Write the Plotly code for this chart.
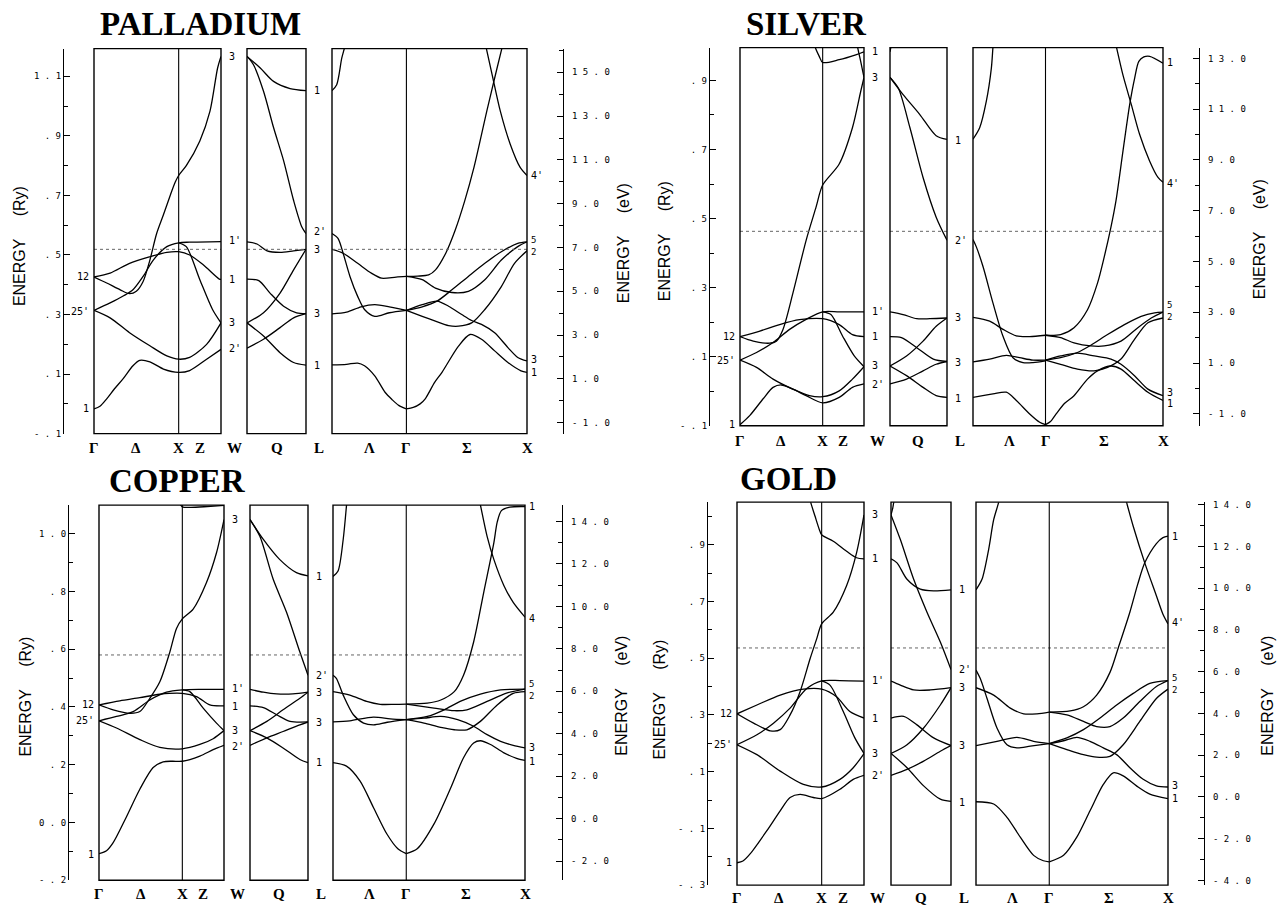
import plotly.graph_objects as go

FIG_W, FIG_H = 1283, 911
RY_TO_EV = 13.6

# ---------------- data ----------------
SYM_POINTS = ["Γ", "Δ", "X", "Z", "W", "Q", "L", "Λ", "Γ", "Σ", "X"]
K_BOX1 = [0.0, 0.5, 1.0, 1.25]          # Γ Δ X Z   (Γ-X-W path, W at 1.5)
K_BOX3 = [0.435, 0.87, 1.575, 2.28]     # Λ Γ Σ X   (L-Γ-X path)
K_X, K_W, K_GAMMA, K_END = 1.0, 1.5, 0.87, 2.28

# ---- PALLADIUM ----
PD_RANGE = [-0.1, 1.193]
PD_EV_ZERO = 0.0105
PD_FERMI = 0.519
PD_RY_TICKS = [-0.1, 0.1, 0.3, 0.5, 0.7, 0.9, 1.1]
PD_RY_TEXT = ["-.1", ".1", ".3", ".5", ".7", ".9", "1.1"]
PD_RY_MINOR = [0.0, 0.2, 0.4, 0.6, 0.8, 1.0, 1.2]
PD_EV_TICKS = [-1, 1, 3, 5, 7, 9, 11, 13, 15]
PD_EV_MINOR = [0, 2, 4, 6, 8, 10, 12, 14, 16]
PD_GXW = [
    ([0, 0.07, 0.15, 0.24, 0.345, 0.46, 0.54, 0.66, 0.82, 1.0, 1.13, 1.33, 1.5],
     [-0.017, -0.008, 0.017, 0.05, 0.085, 0.128, 0.146, 0.141, 0.117, 0.106, 0.112, 0.150, 0.183]),
    ([0, 0.19, 0.42, 0.66, 0.86, 1.0, 1.13, 1.33, 1.5],
     [0.314, 0.289, 0.239, 0.195, 0.161, 0.150, 0.156, 0.2, 0.272]),
    ([0, 0.19, 0.35, 0.46, 0.58, 0.70, 0.86, 1.0, 1.13, 1.5],
     [0.314, 0.339, 0.363, 0.383, 0.428, 0.483, 0.528, 0.541, 0.543, 0.545]),
    ([0, 0.19, 0.42, 0.66, 0.86, 1.0, 1.13, 1.29, 1.48, 1.5],
     [0.426, 0.439, 0.472, 0.494, 0.509, 0.511, 0.5, 0.467, 0.419, 0.418]),
    ([0, 0.15, 0.31, 0.42, 0.50, 0.58, 0.66, 0.74, 0.82, 0.90, 0.96, 1.0, 1.09, 1.25, 1.37, 1.46, 1.5],
     [0.426, 0.406, 0.383, 0.370, 0.378, 0.411, 0.483, 0.572, 0.635, 0.70, 0.745, 0.767, 0.80, 0.883, 0.983, 1.128, 1.167]),
    ([1.0, 1.09, 1.25, 1.40, 1.5], [0.541, 0.528, 0.417, 0.317, 0.272]),
]
PD_WL = [
    ([0, 0.225, 0.45, 0.73, 1], [1.167, 1.128, 1.083, 1.059, 1.052]),
    ([0, 0.11, 0.28, 0.45, 0.62, 0.79, 0.93, 1], [1.167, 1.139, 1.05, 0.928, 0.817, 0.683, 0.594, 0.572]),
    ([0, 0.17, 0.34, 0.56, 0.79, 1], [0.544, 0.537, 0.514, 0.509, 0.514, 0.519]),
    ([0, 0.2, 0.39, 0.62, 0.84, 1], [0.419, 0.414, 0.372, 0.328, 0.306, 0.303]),
    ([0, 0.28, 0.56, 0.79, 1], [0.272, 0.306, 0.372, 0.45, 0.519]),
    ([0, 0.28, 0.56, 0.79, 1], [0.272, 0.228, 0.172, 0.139, 0.13]),
    ([0, 0.28, 0.56, 0.79, 1], [0.187, 0.217, 0.256, 0.289, 0.303]),
]
PD_LGX = [
    ([0, 0.055, 0.114, 0.155, 0.18], [1.052, 1.072, 1.161, 1.206, 1.25]),
    ([0, 0.07, 0.13, 0.21, 0.30, 0.38, 0.50, 0.67, 0.87],
     [0.572, 0.556, 0.506, 0.428, 0.361, 0.317, 0.294, 0.306, 0.314]),
    ([0, 0.13, 0.30, 0.46, 0.58, 0.75, 0.87], [0.519, 0.506, 0.472, 0.439, 0.422, 0.426, 0.428]),
    ([0, 0.17, 0.34, 0.50, 0.67, 0.87], [0.302, 0.308, 0.326, 0.333, 0.326, 0.314]),
    ([0, 0.17, 0.30, 0.38, 0.50, 0.62, 0.70, 0.78, 0.87],
     [0.131, 0.133, 0.137, 0.128, 0.094, 0.039, 0.015, -0.005, -0.017]),
    ([0.87, 1.0, 1.13, 1.21, 1.33, 1.44, 1.55, 1.66, 1.81, 1.93, 2.0],
     [0.428, 0.429, 0.433, 0.45, 0.506, 0.583, 0.68, 0.794, 0.983, 1.128, 1.21]),
    ([1.795, 1.872, 1.968, 2.084, 2.2, 2.28], [1.206, 1.106, 0.983, 0.872, 0.794, 0.767]),
    ([0.87, 1.055, 1.209, 1.402, 1.594, 1.787, 1.98, 2.172, 2.28],
     [0.428, 0.417, 0.389, 0.374, 0.378, 0.417, 0.483, 0.528, 0.544]),
    ([0.87, 1.055, 1.228, 1.402, 1.594, 1.787, 1.98, 2.172, 2.28],
     [0.314, 0.326, 0.345, 0.383, 0.428, 0.472, 0.511, 0.539, 0.544]),
    ([0.87, 1.055, 1.228, 1.363, 1.517, 1.633, 1.748, 1.902, 2.057, 2.172, 2.28],
     [0.314, 0.333, 0.345, 0.328, 0.30, 0.28, 0.267, 0.239, 0.189, 0.156, 0.144]),
    ([0.87, 1.055, 1.209, 1.363, 1.479, 1.633, 1.787, 1.98, 2.134, 2.28],
     [0.314, 0.294, 0.278, 0.263, 0.261, 0.272, 0.317, 0.394, 0.472, 0.514]),
    ([0.87, 0.95, 1.03, 1.09, 1.2, 1.286, 1.479, 1.614, 1.748, 1.902, 2.057, 2.21, 2.28],
     [-0.017, -0.012, 0.0, 0.017, 0.072, 0.106, 0.194, 0.233, 0.217, 0.178, 0.139, 0.111, 0.106]),
]
PD_G_LBL = [("1", -0.017), ("25'", 0.311), ("12", 0.428)]
PD_W_LBL = [("3", 1.165), ("1'", 0.547), ("1", 0.419), ("3", 0.272), ("2'", 0.187)]
PD_L_LBL = [("1", 1.052), ("2'", 0.578), ("3", 0.517), ("3", 0.303), ("1", 0.13)]
PD_X_LBL = [("4'", 0.767), ("5", 0.529, "bottom"), ("2", 0.529, "top"), ("3", 0.150), ("1", 0.106)]

# ---- SILVER ----
AG_RANGE = [-0.1, 0.995]
AG_EV_ZERO = 0.008
AG_FERMI = 0.463
AG_RY_TICKS = [-0.1, 0.1, 0.3, 0.5, 0.7, 0.9]
AG_RY_TEXT = ["-.1", ".1", ".3", ".5", ".7", ".9"]
AG_RY_MINOR = [0.0, 0.2, 0.4, 0.6, 0.8]
AG_EV_TICKS = [-1, 1, 3, 5, 7, 9, 11, 13]
AG_EV_MINOR = [0, 2, 4, 6, 8, 10, 12]
AG_GXW = [
    ([0, 0.12, 0.28, 0.40, 0.50, 0.64, 0.80, 1.0, 1.2, 1.36, 1.5],
     [-0.097, -0.07, -0.022, 0.011, 0.018, 0.006, -0.013, -0.034, -0.018, 0.011, 0.021]),
    ([0, 0.2, 0.4, 0.64, 0.84, 1.0, 1.2, 1.36, 1.5],
     [0.09, 0.069, 0.035, 0.006, -0.013, -0.016, 0.001, 0.035, 0.071]),
    ([0, 0.2, 0.4, 0.6, 0.8, 1.0, 1.2, 1.5], [0.09, 0.112, 0.141, 0.179, 0.208, 0.23, 0.23, 0.23]),
    ([0, 0.24, 0.48, 0.72, 1.0, 1.2, 1.36, 1.5], [0.158, 0.174, 0.193, 0.207, 0.21, 0.193, 0.164, 0.158]),
    ([0, 0.16, 0.36, 0.44, 0.52, 0.64, 0.8, 0.92, 1.0, 1.2, 1.36, 1.46, 1.5],
     [0.158, 0.145, 0.139, 0.145, 0.179, 0.284, 0.437, 0.533, 0.597, 0.658, 0.763, 0.868, 0.909]),
    ([1.0, 1.1, 1.24, 1.38, 1.5], [0.23, 0.222, 0.16, 0.103, 0.071]),
    ([0.88, 0.91, 0.96, 1.0, 1.2, 1.4, 1.5], [1.03, 0.996, 0.969, 0.952, 0.96, 0.974, 0.983]),
    ([1.40, 1.42, 1.46, 1.5], [1.04, 1.0, 0.955, 0.909]),
]
AG_WL = [
    ([0, 0.23, 0.52, 0.81, 1], [0.909, 0.859, 0.802, 0.74, 0.729]),
    ([0, 0.145, 0.35, 0.58, 0.81, 1], [0.909, 0.878, 0.763, 0.619, 0.504, 0.437]),
    ([0, 0.03, 0.05], [0.983, 1.01, 1.04]),
    ([0, 0.23, 0.47, 0.7, 1], [0.23, 0.222, 0.21, 0.21, 0.212]),
    ([0, 0.2, 0.47, 0.76, 1], [0.158, 0.155, 0.126, 0.093, 0.086]),
    ([0, 0.29, 0.58, 0.81, 1], [0.073, 0.102, 0.145, 0.188, 0.212]),
    ([0, 0.29, 0.58, 0.81, 1], [0.073, 0.045, 0.011, -0.013, -0.018]),
    ([0, 0.29, 0.58, 0.81, 1], [0.021, 0.035, 0.059, 0.078, 0.086]),
]
AG_LGX = [
    ([0, 0.08, 0.16, 0.22, 0.24, 0.26], [0.73, 0.763, 0.84, 0.935, 0.998, 1.05]),
    ([0, 0.04, 0.12, 0.24, 0.36, 0.48, 0.60, 0.72, 0.87],
     [0.439, 0.418, 0.361, 0.255, 0.159, 0.097, 0.083, 0.083, 0.088]),
    ([0, 0.2, 0.36, 0.52, 0.68, 0.87], [0.214, 0.203, 0.179, 0.16, 0.158, 0.162]),
    ([0, 0.2, 0.40, 0.56, 0.72, 0.87], [0.085, 0.093, 0.104, 0.097, 0.09, 0.09]),
    ([0, 0.24, 0.40, 0.52, 0.68, 0.80, 0.87], [-0.018, -0.008, -0.003, -0.027, -0.066, -0.09, -0.097]),
    ([0.87, 1.051, 1.212, 1.374, 1.494, 1.575, 1.656, 1.716, 1.80, 1.88, 1.94, 1.99, 2.05, 2.12, 2.28],
     [0.162, 0.164, 0.184, 0.236, 0.313, 0.389, 0.476, 0.552, 0.696, 0.83, 0.907, 0.955, 0.968, 0.97, 0.95]),
    ([1.68, 1.72, 1.799, 1.90, 1.999, 2.119, 2.22, 2.28], [1.04, 0.998, 0.916, 0.83, 0.744, 0.667, 0.619, 0.605]),
    ([0.87, 1.051, 1.212, 1.414, 1.575, 1.776, 1.978, 2.139, 2.26, 2.28],
     [0.162, 0.155, 0.14, 0.131, 0.131, 0.145, 0.184, 0.212, 0.227, 0.229]),
    ([0.87, 1.051, 1.253, 1.414, 1.615, 1.817, 2.018, 2.179, 2.28],
     [0.09, 0.097, 0.112, 0.133, 0.164, 0.193, 0.217, 0.227, 0.229]),
    ([0.87, 1.051, 1.253, 1.454, 1.656, 1.776, 1.938, 2.099, 2.28],
     [0.09, 0.102, 0.11, 0.102, 0.093, 0.078, 0.045, 0.006, -0.013]),
    ([0.87, 1.051, 1.253, 1.454, 1.615, 1.776, 1.938, 2.099, 2.28],
     [0.09, 0.078, 0.064, 0.059, 0.069, 0.093, 0.15, 0.198, 0.212]),
    ([0.87, 0.93, 1.0, 1.1, 1.212, 1.374, 1.494, 1.656, 1.776, 1.938, 2.099, 2.28],
     [-0.097, -0.088, -0.065, -0.035, -0.013, 0.035, 0.059, 0.073, 0.064, 0.03, -0.003, -0.027]),
]
AG_G_LBL = [("1", -0.097), ("25'", 0.09), ("12", 0.158)]
AG_W_LBL = [("1", 0.983), ("3", 0.909), ("1'", 0.232), ("1", 0.158), ("3", 0.073), ("2'", 0.019)]
AG_L_LBL = [("1", 0.727), ("2'", 0.435), ("3", 0.212), ("3", 0.083), ("1", -0.02)]
AG_X_LBL = [("1", 0.951), ("4'", 0.602), ("5", 0.231, "bottom"), ("2", 0.231, "top"), ("3", -0.003), ("1", -0.035)]

# ---- COPPER ----
CU_RANGE = [-0.2, 1.099]
CU_EV_ZERO = 0.013
CU_FERMI = 0.58
CU_RY_TICKS = [-0.2, 0.0, 0.2, 0.4, 0.6, 0.8, 1.0]
CU_RY_TEXT = ["-.2", "0.0", ".2", ".4", ".6", ".8", "1.0"]
CU_RY_MINOR = [-0.1, 0.1, 0.3, 0.5, 0.7, 0.9]
CU_EV_TICKS = [-2, 0, 2, 4, 6, 8, 10, 12, 14]
CU_EV_MINOR = [-1, 1, 3, 5, 7, 9, 11, 13]
CU_GXW = [
    ([0, 0.09, 0.17, 0.33, 0.49, 0.65, 0.77, 0.88, 1.0, 1.21, 1.37, 1.5],
     [-0.108, -0.098, -0.07, 0.02, 0.115, 0.19, 0.21, 0.212, 0.212, 0.23, 0.252, 0.267]),
    ([0, 0.21, 0.49, 0.73, 1.0, 1.21, 1.37, 1.5], [0.352, 0.327, 0.287, 0.26, 0.255, 0.27, 0.29, 0.318]),
    ([0, 0.21, 0.41, 0.61, 0.81, 1.0, 1.21, 1.5], [0.352, 0.367, 0.384, 0.424, 0.451, 0.459, 0.461, 0.461]),
    ([0, 0.25, 0.49, 0.73, 1.0, 1.17, 1.33, 1.5], [0.407, 0.421, 0.432, 0.444, 0.447, 0.436, 0.407, 0.404]),
    ([0, 0.17, 0.37, 0.49, 0.61, 0.73, 0.85, 0.93, 1.0, 1.13, 1.29, 1.41, 1.5],
     [0.407, 0.39, 0.378, 0.384, 0.43, 0.487, 0.59, 0.672, 0.705, 0.739, 0.831, 0.934, 1.049]),
    ([1.0, 1.09, 1.25, 1.41, 1.5], [0.459, 0.453, 0.396, 0.344, 0.318]),
    ([0.96, 1.0, 1.1, 1.3, 1.5], [1.11, 1.093, 1.091, 1.094, 1.098]),
]
CU_WL = [
    ([0, 0.23, 0.51, 0.8, 1], [1.049, 0.98, 0.911, 0.865, 0.854]),
    ([0, 0.17, 0.4, 0.63, 0.86, 1], [1.049, 0.991, 0.842, 0.728, 0.59, 0.51]),
    ([0, 0.23, 0.46, 0.74, 1], [0.461, 0.451, 0.445, 0.445, 0.451]),
    ([0, 0.23, 0.46, 0.69, 1], [0.404, 0.398, 0.373, 0.35, 0.348]),
    ([0, 0.29, 0.57, 0.86, 1], [0.318, 0.35, 0.39, 0.43, 0.451]),
    ([0, 0.29, 0.57, 0.86, 1], [0.318, 0.293, 0.258, 0.218, 0.207]),
    ([0, 0.29, 0.57, 0.86, 1], [0.267, 0.293, 0.315, 0.338, 0.348]),
]
CU_LGX = [
    ([0, 0.06, 0.121, 0.161, 0.18], [0.852, 0.871, 0.98, 1.1, 1.16]),
    ([0, 0.04, 0.121, 0.242, 0.363, 0.483, 0.644, 0.87], [0.51, 0.499, 0.441, 0.373, 0.344, 0.338, 0.347, 0.356]),
    ([0, 0.2, 0.4, 0.56, 0.73, 0.87], [0.453, 0.441, 0.419, 0.409, 0.409, 0.41]),
    ([0, 0.2, 0.48, 0.68, 0.87], [0.348, 0.352, 0.365, 0.359, 0.356]),
    ([0, 0.16, 0.32, 0.48, 0.64, 0.77, 0.87], [0.207, 0.195, 0.144, 0.052, -0.04, -0.091, -0.108]),
    ([0.87, 1.12, 1.28, 1.44, 1.55, 1.67, 1.79, 1.91, 1.95, 2.0, 2.1, 2.28],
     [0.41, 0.413, 0.424, 0.453, 0.51, 0.625, 0.797, 0.968, 1.04, 1.08, 1.092, 1.094]),
    ([1.72, 1.75, 1.83, 1.91, 2.03, 2.14, 2.28], [1.14, 1.1, 0.991, 0.911, 0.82, 0.762, 0.711]),
    ([0.87, 1.2, 1.44, 1.59, 1.83, 2.06, 2.28], [0.41, 0.396, 0.387, 0.39, 0.419, 0.448, 0.462]),
    ([0.87, 1.12, 1.32, 1.51, 1.75, 1.99, 2.28], [0.356, 0.367, 0.39, 0.419, 0.444, 0.459, 0.462]),
    ([0.87, 1.08, 1.28, 1.48, 1.67, 1.83, 1.99, 2.14, 2.28],
     [0.356, 0.361, 0.367, 0.356, 0.333, 0.304, 0.281, 0.267, 0.258]),
    ([0.87, 1.08, 1.28, 1.44, 1.59, 1.75, 1.95, 2.14, 2.28],
     [0.356, 0.344, 0.329, 0.321, 0.321, 0.35, 0.407, 0.447, 0.453]),
    ([0.87, 1.0, 1.2, 1.4, 1.55, 1.67, 1.75, 1.87, 2.03, 2.18, 2.28],
     [-0.108, -0.091, -0.005, 0.121, 0.224, 0.275, 0.283, 0.27, 0.241, 0.222, 0.215]),
]
CU_G_LBL = [("1", -0.111), ("25'", 0.352), ("12", 0.407)]
CU_W_LBL = [("3", 1.049), ("1'", 0.463), ("1", 0.401), ("3", 0.318), ("2'", 0.264)]
CU_L_LBL = [("1", 0.852), ("2'", 0.508), ("3", 0.45), ("3", 0.347), ("1", 0.206)]
CU_X_LBL = [("1", 1.094), ("4", 0.708), ("5", 0.458, "bottom"), ("2", 0.458, "top"), ("3", 0.258), ("1", 0.212)]

# ---- GOLD ----
AU_RANGE = [-0.3, 1.05]
AU_EV_ZERO = 0.011
AU_FERMI = 0.536
AU_RY_TICKS = [-0.3, -0.1, 0.1, 0.3, 0.5, 0.7, 0.9]
AU_RY_TEXT = ["-.3", "-.1", ".1", ".3", ".5", ".7", ".9"]
AU_RY_MINOR = [-0.2, 0.0, 0.2, 0.4, 0.6, 0.8, 1.0]
AU_EV_TICKS = [-4, -2, 0, 2, 4, 6, 8, 10, 12, 14]
AU_EV_MINOR = [-3, -1, 1, 3, 5, 7, 9, 11, 13]
AU_GXW = [
    ([0, 0.07, 0.157, 0.353, 0.51, 0.627, 0.745, 0.902, 1.0, 1.216, 1.373, 1.5],
     [-0.221, -0.215, -0.189, -0.108, -0.038, 0.009, 0.02, 0.009, 0.005, 0.038, 0.073, 0.087]),
    ([0, 0.235, 0.51, 0.784, 1.0, 1.216, 1.373, 1.5], [0.195, 0.16, 0.102, 0.055, 0.046, 0.073, 0.114, 0.164]),
    ([0, 0.235, 0.431, 0.627, 0.824, 1.0, 1.216, 1.5], [0.195, 0.23, 0.271, 0.324, 0.393, 0.42, 0.421, 0.419]),
    ([0, 0.235, 0.51, 0.784, 1.0, 1.176, 1.333, 1.5], [0.304, 0.335, 0.37, 0.391, 0.391, 0.364, 0.312, 0.289]),
    ([0, 0.196, 0.392, 0.51, 0.627, 0.745, 0.863, 0.941, 1.0, 1.137, 1.294, 1.412, 1.5],
     [0.304, 0.271, 0.244, 0.248, 0.3, 0.382, 0.498, 0.568, 0.621, 0.662, 0.755, 0.871, 1.005]),
    ([1.0, 1.098, 1.255, 1.392, 1.5], [0.42, 0.405, 0.312, 0.219, 0.164]),
    ([0.85, 0.871, 0.922, 0.973, 1.0, 1.137, 1.294, 1.412, 1.5],
     [1.08, 1.049, 1.0, 0.953, 0.935, 0.912, 0.877, 0.854, 0.85]),
]
AU_WL = [
    ([0, 0.156, 0.378, 0.6, 0.822, 1], [1.005, 0.918, 0.778, 0.662, 0.557, 0.46]),
    ([0, 0.03, 0.06], [1.005, 1.03, 1.07]),
    ([0, 0.1, 0.267, 0.489, 0.711, 1], [0.85, 0.836, 0.778, 0.743, 0.737, 0.741]),
    ([0, 0.156, 0.378, 0.656, 1], [0.419, 0.405, 0.388, 0.388, 0.396]),
    ([0, 0.211, 0.433, 0.711, 1], [0.289, 0.295, 0.265, 0.219, 0.192]),
    ([0, 0.267, 0.544, 0.822, 1], [0.164, 0.195, 0.254, 0.335, 0.396]),
    ([0, 0.267, 0.544, 0.822, 1], [0.164, 0.114, 0.05, 0.003, -0.005]),
    ([0, 0.267, 0.544, 0.822, 1], [0.087, 0.108, 0.137, 0.172, 0.192]),
]
AU_LGX = [
    ([0, 0.071, 0.15, 0.21, 0.269, 0.29], [0.741, 0.778, 0.883, 0.988, 1.049, 1.08]),
    ([0, 0.051, 0.13, 0.249, 0.368, 0.486, 0.645, 0.87], [0.458, 0.428, 0.359, 0.254, 0.195, 0.184, 0.19, 0.199]),
    ([0, 0.21, 0.407, 0.566, 0.724, 0.87], [0.396, 0.37, 0.324, 0.304, 0.304, 0.31]),
    ([0, 0.249, 0.486, 0.684, 0.87], [0.192, 0.207, 0.221, 0.207, 0.199]),
    ([0, 0.21, 0.368, 0.526, 0.684, 0.80, 0.87], [-0.006, -0.014, -0.061, -0.131, -0.195, -0.214, -0.218]),
    ([0.87, 1.118, 1.276, 1.433, 1.591, 1.69, 1.827, 1.92, 2.004, 2.142, 2.22, 2.28],
     [0.31, 0.314, 0.329, 0.37, 0.45, 0.537, 0.662, 0.76, 0.836, 0.904, 0.925, 0.93]),
    ([1.76, 1.788, 1.867, 2.004, 2.142, 2.22, 2.28], [1.08, 1.049, 0.965, 0.836, 0.72, 0.655, 0.621]),
    ([0.87, 1.079, 1.276, 1.433, 1.591, 1.748, 1.945, 2.142, 2.28],
     [0.31, 0.3, 0.277, 0.259, 0.259, 0.289, 0.347, 0.4, 0.421]),
    ([0.87, 1.079, 1.276, 1.473, 1.67, 1.867, 2.064, 2.28], [0.199, 0.219, 0.248, 0.289, 0.335, 0.376, 0.411, 0.421]),
    ([0.87, 1.04, 1.197, 1.354, 1.512, 1.67, 1.827, 1.985, 2.142, 2.28],
     [0.199, 0.209, 0.221, 0.207, 0.184, 0.16, 0.114, 0.073, 0.05, 0.046]),
    ([0.87, 1.079, 1.276, 1.433, 1.591, 1.748, 1.945, 2.142, 2.28],
     [0.199, 0.178, 0.16, 0.151, 0.154, 0.195, 0.277, 0.358, 0.391]),
    ([0.87, 1.04, 1.197, 1.354, 1.512, 1.63, 1.748, 1.906, 2.064, 2.28],
     [-0.218, -0.195, -0.131, -0.038, 0.055, 0.096, 0.085, 0.05, 0.021, 0.005]),
]
AU_G_LBL = [("1", -0.221), ("25'", 0.195), ("12", 0.304)]
AU_W_LBL = [("3", 1.005), ("1", 0.85), ("1'", 0.421), ("1", 0.289), ("3", 0.164), ("2'", 0.087)]
AU_L_LBL = [("1", 0.741), ("2'", 0.46), ("3", 0.396), ("3", 0.192), ("1", -0.009)]
AU_X_LBL = [("1", 0.93), ("4'", 0.624), ("5", 0.41, "bottom"), ("2", 0.41, "top"), ("3", 0.05), ("1", 0.005)]

# ---------------- geometry (pixels) ----------------
PANELS = [
    dict(title="PALLADIUM", bands=(PD_GXW, PD_WL, PD_LGX), rng=PD_RANGE, ev0=PD_EV_ZERO, fermi=PD_FERMI,
         ry=(PD_RY_TICKS, PD_RY_TEXT, PD_RY_MINOR), ev=(PD_EV_TICKS, PD_EV_MINOR),
         lbl=(PD_G_LBL, PD_W_LBL, PD_L_LBL, PD_X_LBL),
         top=47, bot=435, lax=63, boxes=[(94, 221), (247, 306), (332, 527)], rax=563,
         tpos=(200, 22), rypos=(19, 246), evpos=(623, 243), symy=449),
    dict(title="SILVER", bands=(AG_GXW, AG_WL, AG_LGX), rng=AG_RANGE, ev0=AG_EV_ZERO, fermi=AG_FERMI,
         ry=(AG_RY_TICKS, AG_RY_TEXT, AG_RY_MINOR), ev=(AG_EV_TICKS, AG_EV_MINOR),
         lbl=(AG_G_LBL, AG_W_LBL, AG_L_LBL, AG_X_LBL),
         top=46, bot=427, lax=709, boxes=[(740, 864), (890, 947), (973, 1163)], rax=1199,
         tpos=(806, 22), rypos=(664, 241), evpos=(1259, 239), symy=442),
    dict(title="COPPER", bands=(CU_GXW, CU_WL, CU_LGX), rng=CU_RANGE, ev0=CU_EV_ZERO, fermi=CU_FERMI,
         ry=(CU_RY_TICKS, CU_RY_TEXT, CU_RY_MINOR), ev=(CU_EV_TICKS, CU_EV_MINOR),
         lbl=(CU_G_LBL, CU_W_LBL, CU_L_LBL, CU_X_LBL),
         top=507, bot=885, lax=68, boxes=[(99, 224), (250, 308), (333, 525)], rax=562,
         tpos=(177, 483), rypos=(26, 700), evpos=(622, 699), symy=899),
    dict(title="GOLD", bands=(AU_GXW, AU_WL, AU_LGX), rng=AU_RANGE, ev0=AU_EV_ZERO, fermi=AU_FERMI,
         ry=(AU_RY_TICKS, AU_RY_TEXT, AU_RY_MINOR), ev=(AU_EV_TICKS, AU_EV_MINOR),
         lbl=(AU_G_LBL, AU_W_LBL, AU_L_LBL, AU_X_LBL),
         top=504, bot=890, lax=707, boxes=[(737, 864), (891, 951), (976, 1168)], rax=1204,
         tpos=(788, 481), rypos=(660, 703), evpos=(1268, 699), symy=903),
]

MONO = "DejaVu Sans Mono"
SANS = "Liberation Sans"
SERIF = "Liberation Serif"


def spaced(s):
    return " ".join(list(s))


def px(x):
    return x / FIG_W


def py(y):
    return 1 - y / FIG_H


fig = go.Figure()
layout = dict(width=FIG_W, height=FIG_H, margin=dict(l=0, r=0, t=0, b=0),
              paper_bgcolor="white", plot_bgcolor="white", showlegend=False)
shapes, annotations = [], []
XRANGES = [[0, K_W], [0, 1], [0, K_END]]

for pi, P in enumerate(PANELS):
    yi = pi + 1
    yname = "y" if yi == 1 else f"y{yi}"
    ykey = "yaxis" if yi == 1 else f"yaxis{yi}"
    ei = pi + 5
    ename, ekey = f"y{ei}", f"yaxis{ei}"
    dom = [py(P["bot"]), py(P["top"])]
    lo, hi = P["rng"]
    ticks, text, minor = P["ry"]
    layout[ykey] = dict(domain=dom, range=[lo, hi], anchor="free", position=px(P["lax"]), side="left",
                        showline=True, linecolor="black", linewidth=1.3, showgrid=False, zeroline=False,
                        ticks="inside", ticklen=6, tickwidth=1.2, tickcolor="black",
                        tickmode="array", tickvals=ticks, ticktext=[spaced(t) for t in text],
                        tickfont=dict(family=MONO, size=9, color="black"),
                        minor=dict(tickmode="array", tickvals=minor, ticks="inside", ticklen=4,
                                   tickwidth=1, tickcolor="black", showgrid=False))
    evt, evm = P["ev"]
    r0 = P["ev0"]
    layout[ekey] = dict(overlaying=yname, side="right", anchor="free", position=px(P["rax"]),
                        range=[(lo - r0) * RY_TO_EV, (hi - r0) * RY_TO_EV],
                        showline=True, linecolor="black", linewidth=1.3, showgrid=False, zeroline=False,
                        ticks="inside", ticklen=6, tickwidth=1.2, tickcolor="black",
                        tickmode="array", tickvals=evt, ticktext=[spaced(f"{v:.1f}") for v in evt],
                        tickfont=dict(family=MONO, size=9, color="black"), ticklabelstandoff=6,
                        minor=dict(tickmode="array", tickvals=evm, ticks="inside", ticklen=4,
                                   tickwidth=1, tickcolor="black", showgrid=False))
    xnames = []
    for bi in range(3):
        xi = 3 * pi + bi + 1
        xname = "x" if xi == 1 else f"x{xi}"
        xkey = "xaxis" if xi == 1 else f"xaxis{xi}"
        xnames.append(xname)
        b0, b1 = P["boxes"][bi]
        layout[xkey] = dict(domain=[px(b0), px(b1)], range=XRANGES[bi], anchor=yname, visible=False)
        for k, e in P["bands"][bi]:
            fig.add_trace(go.Scatter(x=k, y=e, mode="lines", xaxis=xname, yaxis=yname,
                                     line=dict(color="black", width=1.3, shape="spline", smoothing=0.8),
                                     hoverinfo="skip", showlegend=False))
        # Fermi level
        shapes.append(dict(type="line", xref=f"{xname} domain", yref=yname, x0=0, x1=1,
                           y0=P["fermi"], y1=P["fermi"], line=dict(color="#666", width=1, dash="dot")))
        # frame
        shapes.append(dict(type="rect", xref=f"{xname} domain", yref=f"{yname} domain",
                           x0=0, x1=1, y0=0, y1=1, line=dict(color="black", width=1.4)))
    # symmetry verticals
    shapes.append(dict(type="line", xref=xnames[0], yref=f"{yname} domain", x0=K_X, x1=K_X, y0=0, y1=1,
                       line=dict(color="black", width=1.1)))
    shapes.append(dict(type="line", xref=xnames[2], yref=f"{yname} domain", x0=K_GAMMA, x1=K_GAMMA,
                       y0=0, y1=1, line=dict(color="black", width=1.1)))
    # dummy trace to carry eV axis
    fig.add_trace(go.Scatter(x=[0.5], y=[(lo - r0) * RY_TO_EV + 1], xaxis=xnames[0], yaxis=ename,
                             mode="markers", marker=dict(opacity=0), hoverinfo="skip", showlegend=False))

    # titles
    annotations.append(dict(text=f"<b>{P['title']}</b>", x=px(P["tpos"][0]), y=py(P["tpos"][1]),
                            xref="paper", yref="paper", showarrow=False, xanchor="center", yanchor="middle",
                            font=dict(family=SERIF, size=33, color="black")))
    nb = "\u00a0" * 5
    annotations.append(dict(text=f"ENERGY{nb}(Ry)", x=px(P["rypos"][0]), y=py(P["rypos"][1]),
                            xref="paper", yref="paper", showarrow=False, textangle=-90,
                            xanchor="center", yanchor="middle", font=dict(family=SANS, size=16, color="black")))
    annotations.append(dict(text=f"ENERGY{nb}(eV)", x=px(P["evpos"][0]), y=py(P["evpos"][1]),
                            xref="paper", yref="paper", showarrow=False, textangle=-90,
                            xanchor="center", yanchor="middle", font=dict(family=SANS, size=16, color="black")))

    # symmetry point labels
    (a0, a1), (c0, c1), (d0, d1) = P["boxes"]
    sym_x = [a0 + k / K_W * (a1 - a0) for k in K_BOX1]
    sym_x += [(a1 + c0) / 2, (c0 + c1) / 2, (c1 + d0) / 2]
    sym_x += [d0 + k / K_END * (d1 - d0) for k in K_BOX3]
    for s, xx in zip(SYM_POINTS, sym_x):
        annotations.append(dict(text=f"<b>{s}</b>", x=px(xx), y=py(P["symy"]), xref="paper", yref="paper",
                                showarrow=False, xanchor="center", yanchor="middle",
                                font=dict(family=SERIF, size=15, color="black")))

    # level labels
    gl, wl, ll, xl = P["lbl"]
    groups = [(gl, a0 - 4, "right"), (wl, a1 + 7, "left"), (ll, c1 + 7, "left"), (xl, d1 + 3, "left")]
    for lab, xx, anc in groups:
        for item in lab:
            t, e = item[0], item[1]
            yanc = item[2] if len(item) > 2 else "middle"
            fsize = 9 if len(item) > 2 else 10
            annotations.append(dict(text=t, x=px(xx), y=e, xref="paper", yref=yname, showarrow=False,
                                    xanchor=anc, yanchor=yanc, borderpad=0,
                                    font=dict(family=MONO, size=fsize, color="black")))

layout["shapes"] = shapes
layout["annotations"] = annotations
fig.update_layout(**layout)
fig.write_html("out.html")
